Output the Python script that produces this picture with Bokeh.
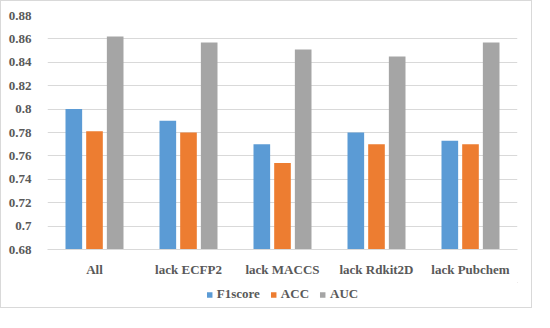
from bokeh.plotting import figure
from bokeh.models import ColumnDataSource, Legend, LegendItem, FixedTicker
from bokeh.layouts import column
from bokeh.transform import dodge
from bokeh.embed import file_html
from bokeh.resources import INLINE

categories = ["All", "lack ECFP2", "lack MACCS", "lack Rdkit2D", "lack Pubchem"]
f1score = [0.800, 0.790, 0.770, 0.780, 0.773]
acc = [0.781, 0.780, 0.754, 0.770, 0.770]
auc = [0.862, 0.857, 0.851, 0.845, 0.857]
series_names = ["F1score", "ACC", "AUC"]
series_colors = ["#5B9BD5", "#ED7D31", "#A5A5A5"]
y_ticks = [0.68, 0.70, 0.72, 0.74, 0.76, 0.78, 0.80, 0.82, 0.84, 0.86, 0.88]
y_labels = ["0.68", "0.7", "0.72", "0.74", "0.76", "0.78", "0.8", "0.82", "0.84", "0.86", "0.88"]

src = ColumnDataSource(dict(cat=categories, f1=f1score, acc=acc, auc=auc))

FONT = "Liberation Serif"
BORDER = "1px solid #d9d9d9"

p = figure(x_range=categories, y_range=(0.68, 0.88), width=532, height=282,
           output_backend="svg", toolbar_location=None,
           min_border_left=46, min_border_right=16, min_border_top=14, min_border_bottom=34,
           styles={"border-left": BORDER, "border-right": BORDER, "border-top": BORDER})

w = 0.177
for col_name, off, color in zip(["f1", "acc", "auc"], [-0.22, 0.0, 0.22], series_colors):
    p.vbar(x=dodge("cat", off, range=p.x_range), top=col_name, bottom=0.68, width=w,
           source=src, fill_color=color, line_color=None)

p.outline_line_color = None
p.xgrid.grid_line_color = None
p.ygrid.grid_line_color = "#d9d9d9"
p.ygrid.grid_line_width = 1
p.yaxis.ticker = FixedTicker(ticks=y_ticks)
p.yaxis.major_label_overrides = {t: l for t, l in zip(y_ticks, y_labels)}
p.yaxis.axis_line_color = None
p.yaxis.major_tick_line_color = None
p.yaxis.minor_tick_line_color = None
p.yaxis.major_label_standoff = 10
p.xaxis.axis_line_color = "#d9d9d9"
p.xaxis.major_tick_line_color = None
p.xaxis.major_tick_out = 0
p.xaxis.major_label_standoff = 12
for ax in (p.xaxis, p.yaxis):
    ax.major_label_text_font = FONT
    ax.major_label_text_font_style = "bold"
    ax.major_label_text_font_size = "13px"
    ax.major_label_text_color = "#595959"

# legend strip (swatch renderers sit outside the visible range; only the legend shows)
p2 = figure(width=532, height=26, x_range=(0, 1), y_range=(0, 1),
            output_backend="svg", toolbar_location=None, min_border=0,
            styles={"border-left": BORDER, "border-right": BORDER, "border-bottom": BORDER})
p2.axis.visible = False
p2.grid.visible = False
p2.outline_line_color = None
items = []
for name, color in zip(series_names, series_colors):
    r = p2.vbar(x=[5], top=[6], bottom=[5], width=0.1, fill_color=color, line_color=None)
    items.append(LegendItem(label=name, renderers=[r]))
legend = Legend(items=items, orientation="horizontal", location="top_center",
                label_text_font=FONT, label_text_font_style="bold",
                label_text_font_size="13px", label_text_color="#595959",
                glyph_width=7, glyph_height=7, spacing=10, label_standoff=4,
                border_line_color=None, background_fill_alpha=0,
                margin=4, padding=2)
p2.add_layout(legend)

layout = column(p, p2, spacing=0)

open("out.html", "w").write(file_html(layout, INLINE))
